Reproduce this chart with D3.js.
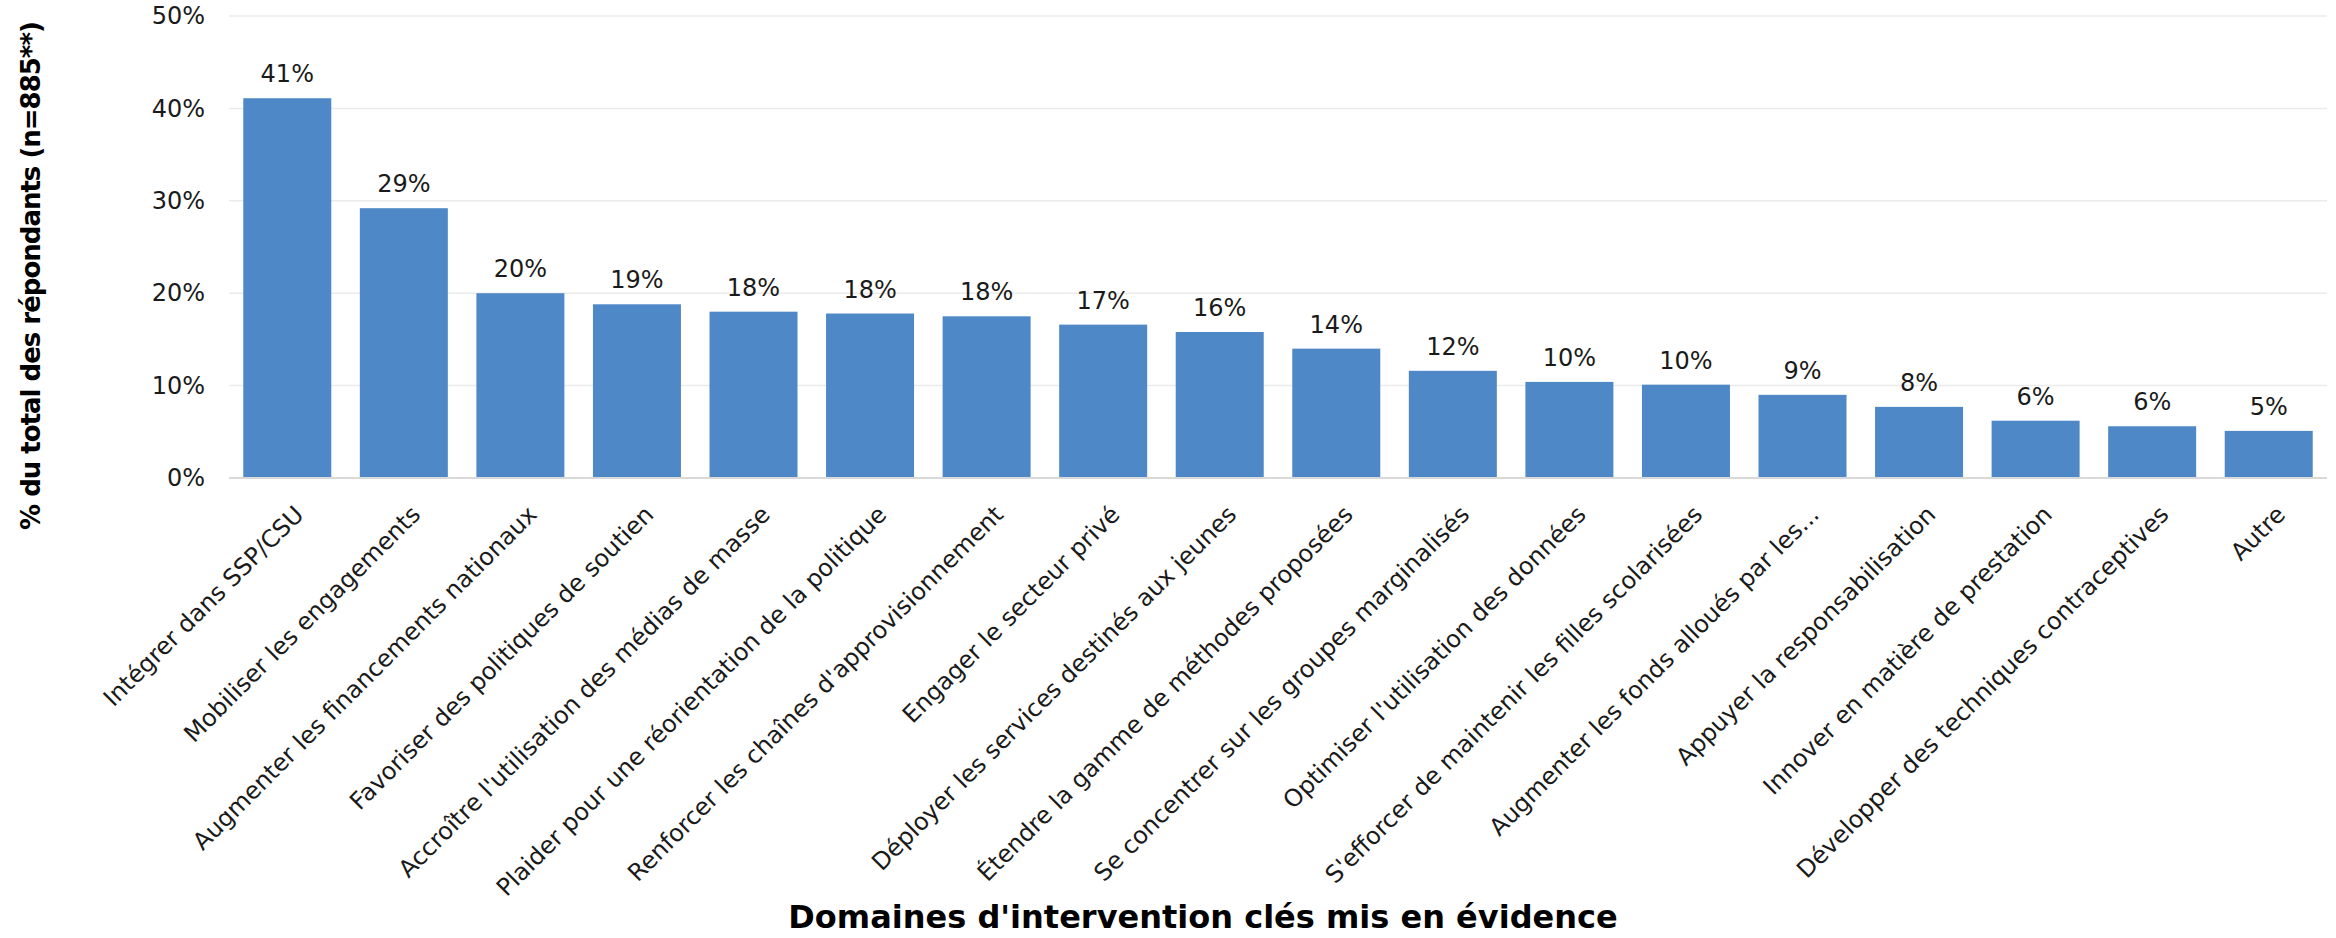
<!DOCTYPE html>
<html>
<head>
<meta charset="utf-8">
<script src="https://cdn.jsdelivr.net/npm/d3@7"></script>
<style>
  body { margin: 0; background: #fff; }
  #chart text { font-family: "DejaVu Sans", Verdana, sans-serif; }
</style>
</head>
<body>
<div id="chart"></div>
<script>
// Chart data
const categories = [
  "Intégrer dans SSP/CSU",
  "Mobiliser les engagements",
  "Augmenter les financements nationaux",
  "Favoriser des politiques de soutien",
  "Accroître l'utilisation des médias de masse",
  "Plaider pour une réorientation de la politique",
  "Renforcer les chaînes d'approvisionnement",
  "Engager le secteur privé",
  "Déployer les services destinés aux jeunes",
  "Étendre la gamme de méthodes proposées",
  "Se concentrer sur les groupes marginalisés",
  "Optimiser l'utilisation des données",
  "S'efforcer de maintenir les filles scolarisées",
  "Augmenter les fonds alloués par les...",
  "Appuyer la responsabilisation",
  "Innover en matière de prestation",
  "Développer des techniques contraceptives",
  "Autre"
];
const values = [41.1, 29.2, 20.0, 18.8, 18.0, 17.8, 17.5, 16.6, 15.8, 14.0, 11.6, 10.4, 10.1, 9.0, 7.7, 6.2, 5.6, 5.1];
const yTicks = [0, 10, 20, 30, 40, 50];
const yTitle = "% du total des répondants (n=885**)";
const xTitle = "Domaines d'intervention clés mis en évidence";

const width = 2336, height = 938;
const margin = { top: 16, right: 9, bottom: 460, left: 229 };
const barColour = "#4f88c6";

const svg = d3.select("#chart").append("svg")
  .attr("width", width)
  .attr("height", height)
  .attr("viewBox", [0, 0, width, height]);

const x = d3.scaleBand()
  .domain(categories)
  .range([margin.left, width - margin.right])
  .paddingInner(0.245)
  .paddingOuter(0.1225);

const y = d3.scaleLinear()
  .domain([0, 50])
  .range([height - margin.bottom, margin.top]);

// gridlines
svg.append("g")
  .selectAll("line")
  .data(yTicks.filter(d => d > 0))
  .join("line")
  .attr("x1", margin.left)
  .attr("x2", width - margin.right)
  .attr("y1", d => y(d))
  .attr("y2", d => y(d))
  .attr("stroke", "#ebebeb")
  .attr("stroke-width", 1.5);

// y axis labels
const yAxis = svg.append("g")
  .attr("transform", `translate(${margin.left},0)`)
  .call(d3.axisLeft(y).tickValues(yTicks).tickFormat(d => d + "%").tickSize(0).tickPadding(24));
yAxis.select(".domain").remove();
yAxis.selectAll("text")
  .attr("font-size", "24px")
  .attr("fill", "#1a1a1a");

// bars
svg.append("g")
  .selectAll("rect")
  .data(values)
  .join("rect")
  .attr("x", (d, i) => x(categories[i]))
  .attr("y", d => y(d))
  .attr("width", x.bandwidth())
  .attr("height", d => y(0) - y(d))
  .attr("fill", barColour);

// x axis line
svg.append("line")
  .attr("x1", margin.left)
  .attr("x2", width - margin.right)
  .attr("y1", y(0))
  .attr("y2", y(0))
  .attr("stroke", "#d9d9d9")
  .attr("stroke-width", 2);

// data labels
svg.append("g")
  .selectAll("text")
  .data(values)
  .join("text")
  .attr("x", (d, i) => x(categories[i]) + x.bandwidth() / 2)
  .attr("y", d => y(d) - 16)
  .attr("text-anchor", "middle")
  .attr("font-size", "24px")
  .attr("fill", "#1a1a1a")
  .text(d => Math.round(d) + "%");

// category labels, rotated
svg.append("g")
  .selectAll("text")
  .data(categories)
  .join("text")
  .attr("transform", d => `translate(${x(d) + x.bandwidth() / 2 + 18},${y(0) + 38}) rotate(-45)`)
  .attr("text-anchor", "end")
  .attr("font-size", "24px")
  .attr("fill", "#1a1a1a")
  .text(d => d);

// axis titles
svg.append("text")
  .attr("transform", `translate(40,276) rotate(-90)`)
  .attr("text-anchor", "middle")
  .attr("font-size", "26px")
  .attr("letter-spacing", "-1px")
  .attr("font-weight", "bold")
  .attr("fill", "#000")
  .text(yTitle);

svg.append("text")
  .attr("x", 1203)
  .attr("y", 928)
  .attr("text-anchor", "middle")
  .attr("font-size", "32px")
  .attr("font-weight", "bold")
  .attr("fill", "#000")
  .text(xTitle);
</script>
</body>
</html>
